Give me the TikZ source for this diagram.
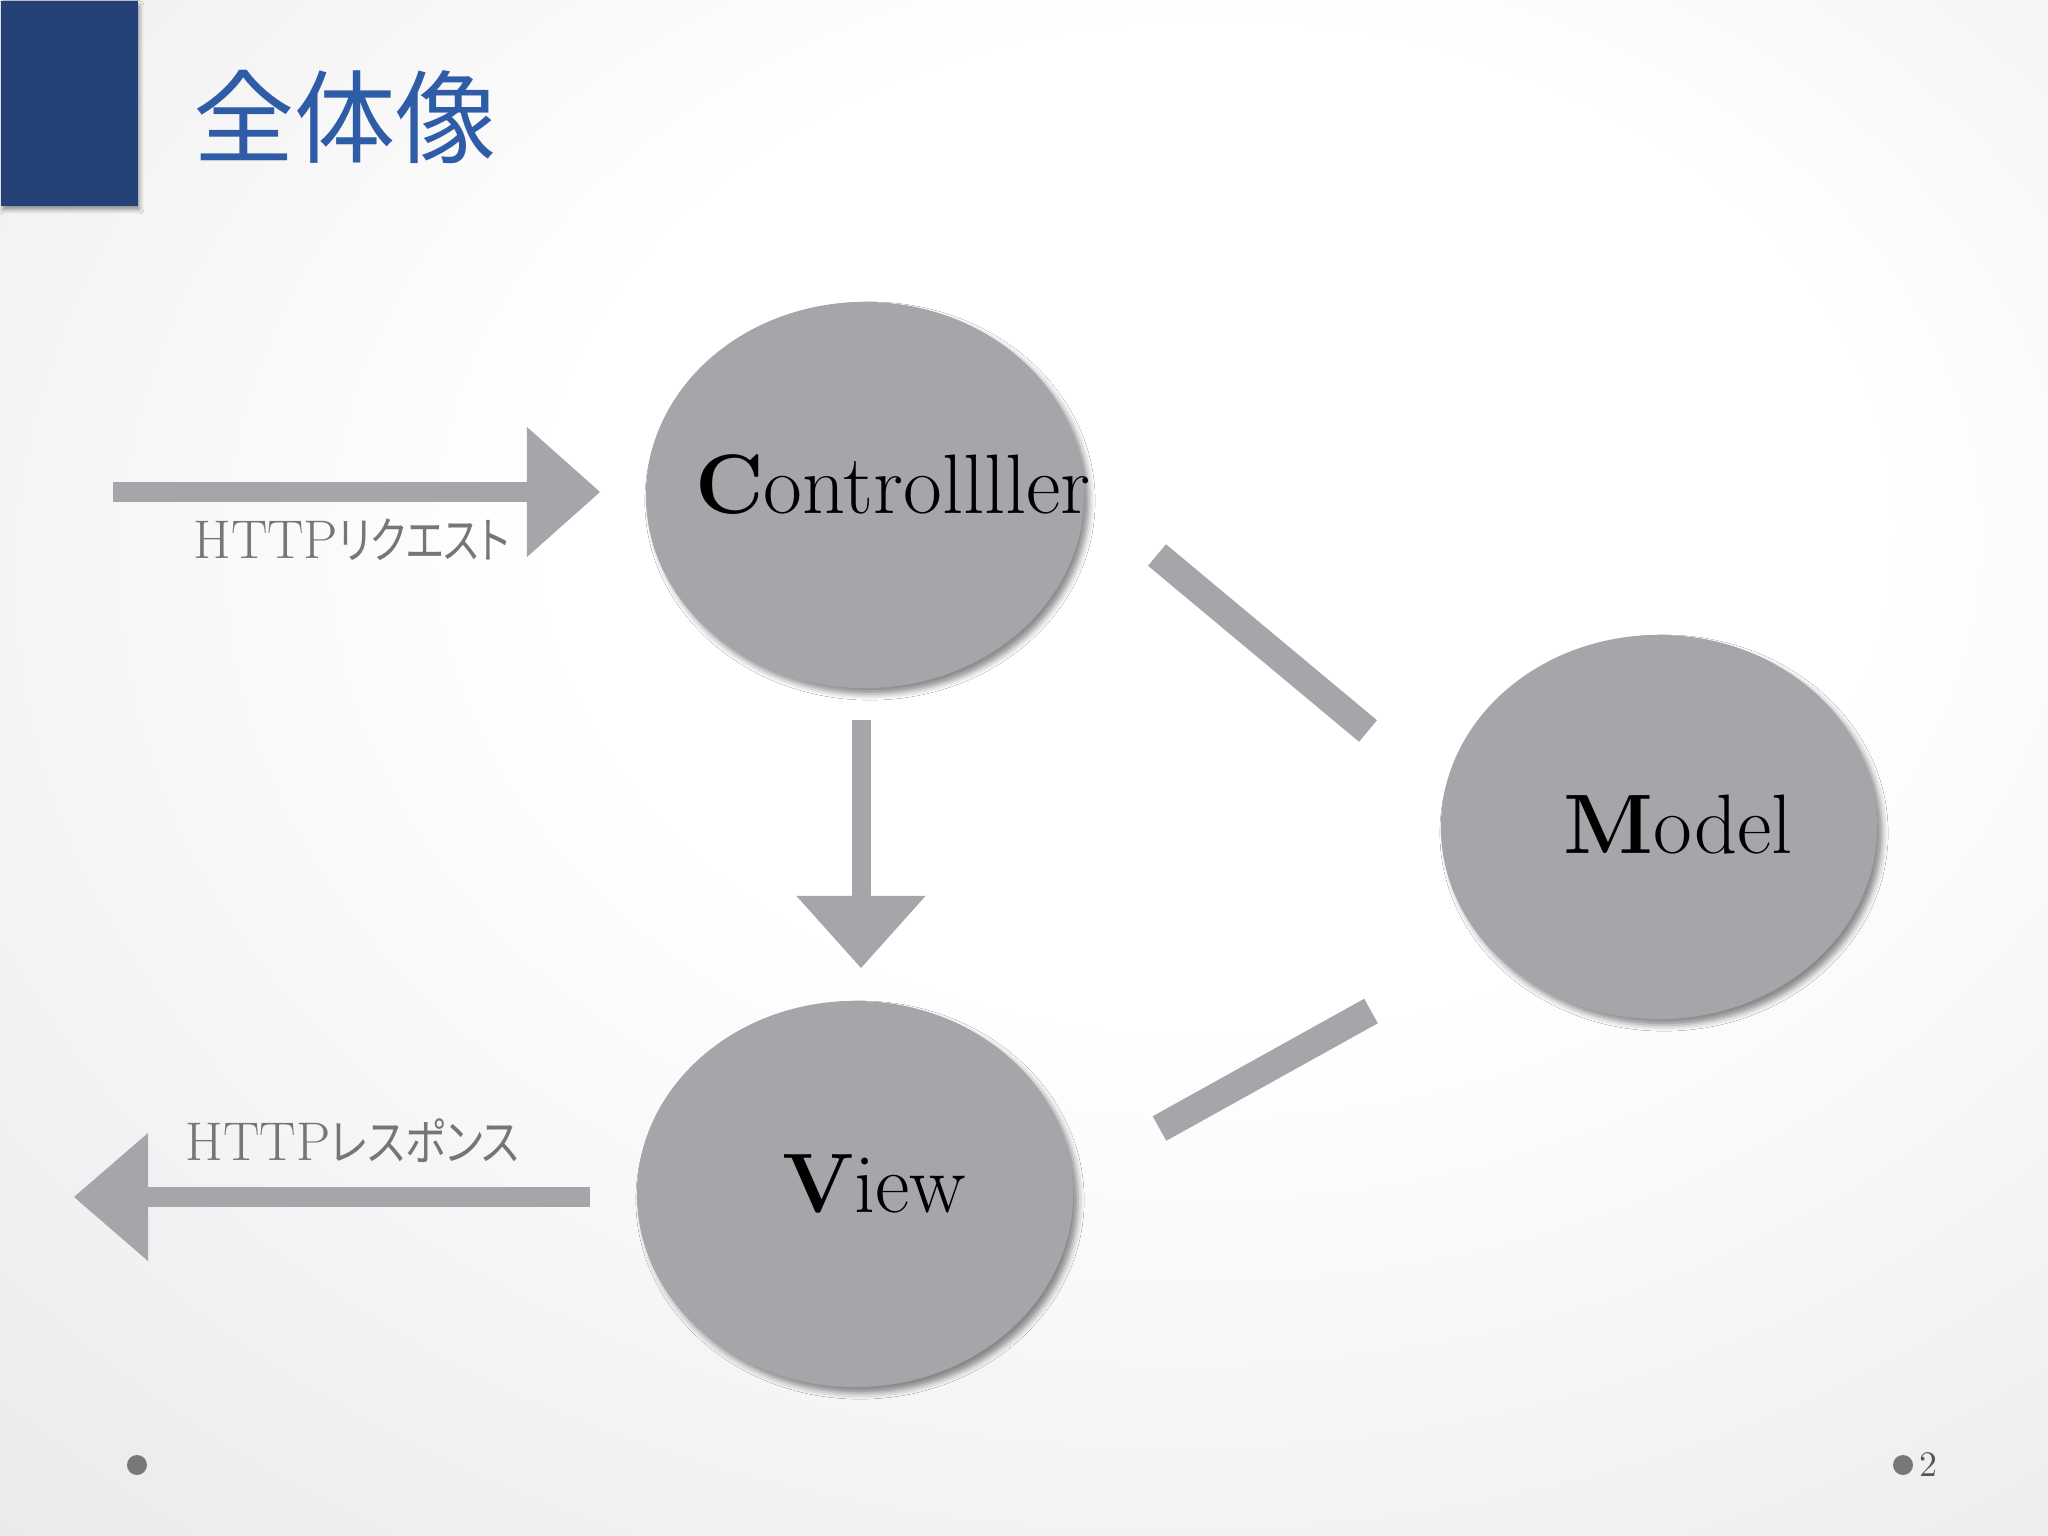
\documentclass[tikz,border=0pt]{standalone}
\usepackage{fontspec}
\newfontfamily\jp[RawFeature=+palt]{Noto Sans CJK JP}
\newfontfamily\jptitle{Noto Sans CJK JP}
\usetikzlibrary{shapes.geometric,arrows.meta,shadows.blur}
\definecolor{shapegray}{RGB}{166,165,169}
\definecolor{labelgray}{RGB}{118,118,120}
\definecolor{titleblue}{RGB}{46,92,166}
\definecolor{barblue}{RGB}{36,66,120}
\definecolor{dotgray}{RGB}{120,120,122}
\definecolor{numgray}{RGB}{85,85,88}
\definecolor{bgA}{RGB}{228,228,231}
\definecolor{bgB}{RGB}{214,214,218}
\pgfdeclareradialshading{slidebg}{\pgfpoint{6bp}{10bp}}{color(0bp)=(white); color(16bp)=(white); color(48bp)=(bgA); color(75bp)=(bgB)}
\tikzset{
  blob/.style={ellipse, fill=shapegray, draw=none, inner sep=0pt,
    blur shadow={shadow xshift=0.05cm, shadow yshift=-0.06cm, shadow blur radius=0.06cm, shadow opacity=45}},
  mvc/.style={font=\fontsize{24}{28}\selectfont, text=black, inner sep=0pt},
  lab/.style={font=\fontsize{15.5}{18}\selectfont, text=labelgray, inner sep=0pt},
  shaft/.style={draw=shapegray, line width=0.2cm},
  bandbar/.style={draw=shapegray, line width=0.28cm, line cap=butt},
  dotmark/.style={circle, fill=dotgray, minimum size=0.2cm, inner sep=0pt}
}
\begin{document}
\begin{tikzpicture}[x=0.01cm,y=-0.01cm]
\useasboundingbox (0,0) rectangle (2048,1536);
\shade[shading=slidebg] (0,0) rectangle (2048,1536);

% title bar and title
\node[fill=barblue, minimum width=1.37cm, minimum height=2.05cm, anchor=north west, inner sep=0pt,
  blur shadow={shadow xshift=0.02cm, shadow yshift=-0.04cm, shadow blur radius=0.04cm, shadow opacity=40}] (titlebar) at (0,0) {};
\node[text=titleblue, font=\jptitle\fontsize{28.8}{32}\selectfont, inner sep=0pt] (title) at (345,117) {全体像};

% ellipses
\node[blob, minimum width=4.38cm, minimum height=3.86cm] (ctrl) at (865,495) {};
\node[blob, minimum width=4.36cm, minimum height=3.84cm] (model) at (1659,827) {};
\node[blob, minimum width=4.36cm, minimum height=3.86cm] (view) at (855,1194) {};

\node[mvc, anchor=base] (ctrlt) at (893,513) {\textbf{C}ontrollller};
\node[mvc, anchor=base] (modelt) at (1678,853) {\textbf{M}odel};
\node[mvc, anchor=base] (viewt) at (874,1212) {\textbf{V}iew};

% request arrow
\coordinate (reqA) at (113,492);
\coordinate (reqB) at (600,492);
\draw[shaft, -{Triangle[length=0.73cm, width=1.30cm, line width=0pt]}] (reqA) -- (reqB);
\node[lab, anchor=base east] (reqlbl) at (510,558) {HTTP{\jp\fontsize{14}{17}\selectfont\scalebox{0.8}[1]{リクエスト}}};

% response arrow
\coordinate (resA) at (590,1197);
\coordinate (resB) at (74,1197);
\draw[shaft, -{Triangle[length=0.74cm, width=1.28cm, line width=0pt]}] (resA) -- (resB);
\node[lab, anchor=base west] (reslbl) at (185,1160) {HTTP{\jp\fontsize{14}{17}\selectfont\scalebox{0.85}[1]{レスポンス}}};

% controller -> view
\coordinate (cvA) at (861,720);
\coordinate (cvB) at (861,968);
\draw[shaft, line width=0.19cm, -{Triangle[length=0.72cm, width=1.29cm, line width=0pt]}] (cvA) -- (cvB);

% bars to model
\coordinate (cmA) at (1157,555);
\coordinate (cmB) at (1368,731);
\draw[bandbar] (cmA) -- (cmB);
\coordinate (vmA) at (1159.5,1128.5);
\coordinate (vmB) at (1371,1011);
\draw[bandbar] (vmA) -- (vmB);

% footer
\node[dotmark] (dotL) at (137,1465) {};
\node[dotmark] (dotR) at (1903,1465) {};
\node[anchor=base west, inner sep=0pt, text=numgray, font=\fontsize{10.2}{12}\selectfont] (pagenum) at (1919,1476) {2};
\end{tikzpicture}
\end{document}
